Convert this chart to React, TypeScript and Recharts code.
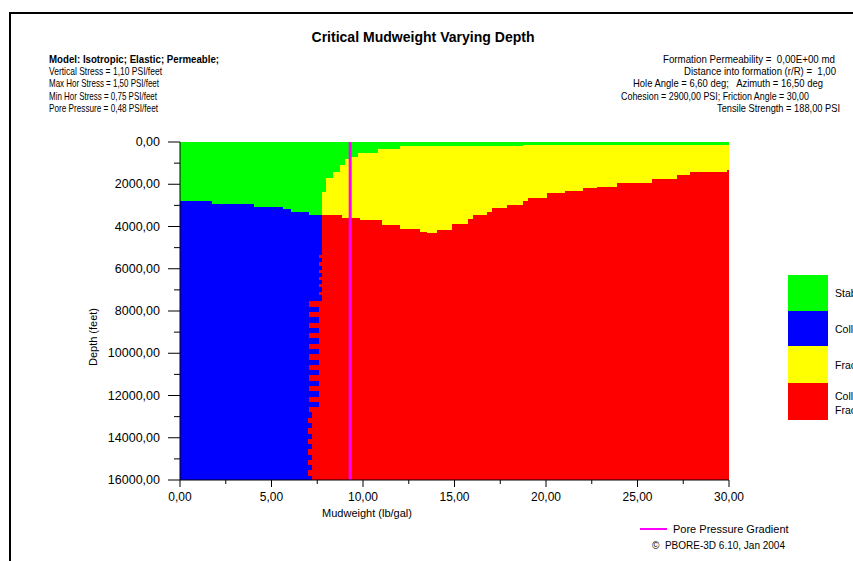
import React from 'react';
import { ComposedChart, Area, XAxis, YAxis, ReferenceLine } from 'recharts';

// ---- Data: region boundaries as step functions of depth (ft) ----
// Each *Depth entry is the depth where the matching *Edge value (mudweight, lb/gal) starts.
// Collapse (blue) region: from 0 lb/gal up to blueEdge
const blueDepth = [
  0, 2780, 2935, 3090, 3170, 3300, 3456,
  5350, 5500, 5700, 5850, 6050, 6200, 6400, 6550, 6700, 6850, 7100, 7250,
  7550, 7800, 8050, 8300, 8550, 8800, 9050, 9300, 9550, 9800, 10050, 10300,
  10550, 10800, 11050, 11300, 11550, 11800, 12050, 12300, 12550,
  12800, 13050, 13300, 13550, 13800, 14050, 14300, 14550, 14800, 15050, 15300, 15550, 15800,
];
const blueEdge = [
  0, 1.75, 4.04, 5.63, 6.06, 7.05, 7.76,
  7.57, 7.76, 7.57, 7.76, 7.57, 7.76, 7.57, 7.76, 7.57, 7.76, 7.57, 7.76,
  7.03, 7.58, 7.03, 7.58, 7.03, 7.58, 7.03, 7.58, 7.03, 7.58, 7.03, 7.58,
  7.03, 7.58, 7.03, 7.58, 7.03, 7.58, 7.03, 7.58, 7.03,
  7.24, 7.02, 7.24, 7.02, 7.24, 7.02, 7.24, 7.02, 7.24, 7.02, 7.24, 7.02, 7.24,
];
// Stable (green) region: from 0 up to greenEdge
const greenDepth = [0, 130, 200, 330, 520, 710, 820, 1090, 1410, 1720, 2380, 3456];
const greenEdge = [30, 18.75, 12.0, 10.8, 9.73, 9.3, 9.02, 8.74, 8.37, 8.0, 7.76, 0];
// Fracture (yellow) region right limit
const yellowDepth = [
  0, 1325, 1405, 1562, 1766, 1956, 2114, 2193, 2320, 2430, 2636, 2793,
  2982, 3140, 3300, 3456, 3660, 3896, 4166, 4330,
];
const yellowEdge = [
  30, 29.87, 27.87, 27.14, 25.78, 23.86, 22.77, 22.04, 21.04, 20.04, 19.03, 18.76,
  17.85, 17.03, 16.76, 16.03, 15.76, 14.85, 14.03, 0,
];
// Collapse & fracture (red) region left of the fracture dome
const redDepth = [0, 3456, 3583, 3700, 3929, 4118, 4245, 4330];
const redEdge = [0, 8.83, 9.84, 11.02, 12.02, 13.11, 13.48, 0];

const maxDepth = 16000;
const maxMud = 30;
const poreGradient = 9.3;

const depthTicks = [0, 1000, 2000, 3000, 4000, 5000, 6000, 7000, 8000, 9000, 10000, 11000, 12000, 13000, 14000, 15000, 16000];
const mudTicks = [0, 2.5, 5, 7.5, 10, 12.5, 15, 17.5, 20, 22.5, 25, 27.5, 30];

const titleText = 'Critical Mudweight Varying Depth';
const leftInfo = [
  'Model: Isotropic; Elastic; Permeable;',
  'Vertical Stress = 1,10 PSI/feet',
  'Max Hor Stress = 1,50 PSI/feet',
  'Min Hor Stress = 0,75 PSI/feet',
  'Pore Pressure = 0,48 PSI/feet',
];
const rightInfo = [
  'Formation Permeability =  0,00E+00 md',
  'Distance into formation (r/R) =  1,00',
  'Hole Angle = 6,60 deg;   Azimuth = 16,50 deg',
  'Cohesion = 2900,00 PSI; Friction Angle = 30,00',
  'Tensile Strength = 188,00 PSI',
];
const legendLabels = [['Stable'], ['Collapse'], ['Fracture'], ['Collapse and', 'Fracture']];
const xTitle = 'Mudweight (lb/gal)';
const yTitle = 'Depth (feet)';
const poreLabel = 'Pore Pressure Gradient';
const copyright = '\u00A9  PBORE-3D 6.10, Jan 2004';

// ---- styles ----
const GREEN = '#00FF00';
const BLUE = '#0000FF';
const YELLOW = '#FFFF00';
const RED = '#FF0000';
const MAGENTA = '#FF00FF';
const FONT = '"Liberation Sans", Arial, sans-serif';
const legendColors = [GREEN, BLUE, YELLOW, RED];

function stepAt(depths: number[], values: number[], d: number): number {
  let v = values[0];
  for (let i = 0; i < depths.length; i++) {
    if (depths[i] <= d) v = values[i];
  }
  return v;
}

const allDepths = Array.from(
  new Set([...blueDepth, ...greenDepth, ...yellowDepth, ...redDepth, maxDepth])
).sort((a, b) => a - b);

const rows = allDepths.map((d) => ({
  depth: d,
  yellow: stepAt(yellowDepth, yellowEdge, d),
  red: stepAt(redDepth, redEdge, d),
  green: stepAt(greenDepth, greenEdge, d),
  blue: stepAt(blueDepth, blueEdge, d),
}));

const fmt = (v: number) => v.toFixed(2).replace('.', ',');

const YTick = (props: any) => {
  const { x, y, payload } = props;
  const v = payload.value as number;
  const major = v % 2000 === 0;
  return (
    <g>
      <line x1={x - (major ? 12 : 6)} x2={x} y1={y} y2={y} stroke="#000" strokeWidth={1} />
      {major && (
        <text x={x - 20} y={y} dy={4} textAnchor="end" fontSize={12.5} fontFamily={FONT} fill="#000">
          {fmt(v)}
        </text>
      )}
    </g>
  );
};

const XTick = (props: any) => {
  const { x, y, payload } = props;
  const v = payload.value as number;
  const major = v % 5 === 0;
  return (
    <g>
      <line x1={x} x2={x} y1={y} y2={y + (major ? 7 : 4)} stroke="#000" strokeWidth={1} />
      {major && (
        <text x={x} y={y + 21} textAnchor="middle" fontSize={12} fontFamily={FONT} fill="#000">
          {fmt(v)}
        </text>
      )}
    </g>
  );
};

const leftLens = [170, 113, 110, 108, 109];
const rightEnds = [835, 836, 823, 809, 840];
const rightLens = [172, 152, 190, 188, 123];
const infoY = [63, 75, 87, 100, 112];

export default function App() {
  return (
    <div style={{ position: 'absolute', left: 0, top: 0, width: 853, height: 561, overflow: 'hidden', background: '#fff' }}>
      <style>{`.recharts-area-area { shape-rendering: crispEdges; }`}</style>
      <ComposedChart
        layout="vertical"
        width={853}
        height={561}
        data={rows}
        margin={{ top: 142, right: 124, bottom: 51, left: 100 }}
      >
        <XAxis
          type="number"
          domain={[0, maxMud]}
          ticks={mudTicks}
          interval={0}
          tickSize={0}
          tickMargin={0}
          tick={<XTick />}
          height={30}
          axisLine={{ stroke: '#000' }}
          allowDataOverflow
        />
        <YAxis
          type="number"
          dataKey="depth"
          domain={[0, maxDepth]}
          ticks={depthTicks}
          interval={0}
          tickSize={0}
          tickMargin={0}
          tick={<YTick />}
          width={80}
          axisLine={{ stroke: '#000' }}
          allowDataOverflow
        />
        <Area dataKey={() => maxMud} type="stepBefore" fill={RED} fillOpacity={1} stroke="none" dot={false} activeDot={false} isAnimationActive={false} />
        <Area dataKey="yellow" type="stepBefore" fill={YELLOW} fillOpacity={1} stroke="none" dot={false} activeDot={false} isAnimationActive={false} />
        <Area dataKey="red" type="stepBefore" fill={RED} fillOpacity={1} stroke="none" dot={false} activeDot={false} isAnimationActive={false} />
        <Area dataKey="green" type="stepBefore" fill={GREEN} fillOpacity={1} stroke="none" dot={false} activeDot={false} isAnimationActive={false} />
        <Area dataKey="blue" type="stepBefore" fill={BLUE} fillOpacity={1} stroke="none" dot={false} activeDot={false} isAnimationActive={false} />
        <ReferenceLine x={poreGradient} stroke={MAGENTA} strokeWidth={3} />
      </ComposedChart>
      <svg
        width={853}
        height={561}
        style={{ position: 'absolute', left: 0, top: 0, pointerEvents: 'none' }}
        fontFamily={FONT}
      >
        <rect x={9} y={12} width={844} height={2} fill="#000" />
        <rect x={9} y={12} width={2} height={549} fill="#000" />
        <text x={423} y={42} textAnchor="middle" fontSize={14} fontWeight="bold" textLength={223} lengthAdjust="spacingAndGlyphs" fill="#000">
          {titleText}
        </text>
        {leftInfo.map((t, i) => (
          <text key={t} x={49} y={infoY[i]} fontSize={10.5} fontWeight={i === 0 ? 'bold' : 'normal'} textLength={leftLens[i]} lengthAdjust="spacingAndGlyphs" fill="#000" style={{ whiteSpace: 'pre' }}>
            {t}
          </text>
        ))}
        {rightInfo.map((t, i) => (
          <text key={t} x={rightEnds[i]} y={infoY[i]} textAnchor="end" fontSize={10.5} textLength={rightLens[i]} lengthAdjust="spacingAndGlyphs" fill="#000" style={{ whiteSpace: 'pre' }}>
            {t}
          </text>
        ))}
        <text x={367} y={517} textAnchor="middle" fontSize={11} fill="#000">{xTitle}</text>
        <text x={97} y={337} textAnchor="middle" fontSize={11} fill="#000" transform="rotate(-90 97 337)">{yTitle}</text>
        {legendLabels.map((lines, i) => {
          const top = [275, 311, 346, 383][i];
          const h = [36, 35, 37, 37][i];
          return (
            <g key={i}>
              <rect x={788} y={top} width={40} height={h} fill={legendColors[i]} />
              {lines.map((ln, j) => (
                <text key={j} x={835} y={top + (lines.length === 1 ? h / 2 + 4 : 17 + j * 14)} fontSize={10.5} fill="#000">
                  {ln}
                </text>
              ))}
            </g>
          );
        })}
        <line x1={640} x2={667} y1={529} y2={529} stroke={MAGENTA} strokeWidth={2} />
        <text x={673} y={533} fontSize={11} fill="#000">{poreLabel}</text>
        <text x={652} y={549} fontSize={10} fill="#000" style={{ whiteSpace: 'pre' }}>{copyright}</text>
      </svg>
    </div>
  );
}
